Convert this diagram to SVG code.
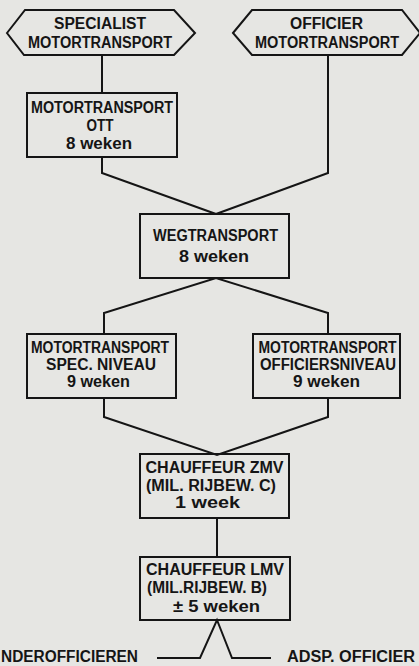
<svg xmlns="http://www.w3.org/2000/svg" width="419" height="666" viewBox="0 0 419 666">
<style>
.bg{fill:#e6e6e3}
.shape{fill:none;stroke:#151515;stroke-width:2}
.conn{fill:none;stroke:#151515;stroke-width:2;stroke-linejoin:miter}
text{font-family:"Liberation Sans",Arial,sans-serif;font-weight:bold;font-size:16px;fill:#151515;text-anchor:middle}
text.start{text-anchor:start}
</style>
<rect class="bg" x="0" y="0" width="419" height="666"/>
<g id="connectors">
<polyline class="conn" points="102,55 102,93"/>
<polyline class="conn" points="102,157 102,173 216,214"/>
<polyline class="conn" points="328,55 328,173 216,214"/>
<polyline class="conn" points="104,334 104,313 216,278 328,313 328,334"/>
<polyline class="conn" points="104,398 104,417 217,455 328,417 328,398"/>
<polyline class="conn" points="217,518 217,557"/>
<polyline class="conn" points="157,658 200,658 217,620 232,658 271,658"/>
</g>
<g id="hex-specialist">
<polygon class="shape" points="7,33 25,10 174,10 195,33 174,55 24,55"/>
<text x="100" y="29" textLength="92" lengthAdjust="spacingAndGlyphs">SPECIALIST</text>
<text x="100" y="48" textLength="144" lengthAdjust="spacingAndGlyphs">MOTORTRANSPORT</text>
</g>
<g id="hex-officier">
<polygon class="shape" points="233,33 252,10 402,10 420,33 402,55 252,55"/>
<text x="326.5" y="29" textLength="73" lengthAdjust="spacingAndGlyphs">OFFICIER</text>
<text x="327" y="48" textLength="144" lengthAdjust="spacingAndGlyphs">MOTORTRANSPORT</text>
</g>
<g id="box-ott">
<rect class="shape" x="27" y="93" width="150" height="64"/>
<text x="102" y="113" textLength="142" lengthAdjust="spacingAndGlyphs">MOTORTRANSPORT</text>
<text x="100" y="131" textLength="27" lengthAdjust="spacingAndGlyphs">OTT</text>
<text x="99" y="149" textLength="66" lengthAdjust="spacingAndGlyphs">8 weken</text>
</g>
<g id="box-wegtransport">
<rect class="shape" x="140" y="214" width="149" height="64"/>
<text x="215.5" y="241" textLength="125" lengthAdjust="spacingAndGlyphs">WEGTRANSPORT</text>
<text x="214" y="262" textLength="70" lengthAdjust="spacingAndGlyphs">8 weken</text>
</g>
<g id="box-spec">
<rect class="shape" x="27" y="334" width="149" height="64"/>
<text x="100" y="353" textLength="138" lengthAdjust="spacingAndGlyphs">MOTORTRANSPORT</text>
<text x="101" y="370" textLength="110" lengthAdjust="spacingAndGlyphs">SPEC. NIVEAU</text>
<text x="98.5" y="387" textLength="63" lengthAdjust="spacingAndGlyphs">9 weken</text>
</g>
<g id="box-officiersniveau">
<rect class="shape" x="253" y="334" width="147" height="64"/>
<text x="327.5" y="353" textLength="138" lengthAdjust="spacingAndGlyphs">MOTORTRANSPORT</text>
<text x="328" y="370" textLength="136" lengthAdjust="spacingAndGlyphs">OFFICIERSNIVEAU</text>
<text x="326.5" y="387" textLength="67" lengthAdjust="spacingAndGlyphs">9 weken</text>
</g>
<g id="box-zmv">
<rect class="shape" x="140" y="454" width="149" height="64"/>
<text x="214.5" y="473" textLength="138" lengthAdjust="spacingAndGlyphs">CHAUFFEUR ZMV</text>
<text x="211" y="491" textLength="130" lengthAdjust="spacingAndGlyphs">(MIL. RIJBEW. C)</text>
<text x="207.5" y="508" textLength="65" lengthAdjust="spacingAndGlyphs">1 week</text>
</g>
<g id="box-lmv">
<rect class="shape" x="140" y="557" width="150" height="63"/>
<text x="215" y="575" textLength="138" lengthAdjust="spacingAndGlyphs">CHAUFFEUR  LMV</text>
<text x="207" y="593" textLength="120" lengthAdjust="spacingAndGlyphs">(MIL.RIJBEW. B)</text>
<text x="216.5" y="612" textLength="87" lengthAdjust="spacingAndGlyphs">± 5 weken</text>
</g>
<g id="label-onderofficieren">
<text class="start" x="1" y="662" textLength="137" lengthAdjust="spacingAndGlyphs">NDEROFFICIEREN</text>
</g>
<g id="label-adsp-officieren">
<text class="start" x="287" y="662" textLength="128" lengthAdjust="spacingAndGlyphs">ADSP. OFFICIER</text>
</g>
</svg>
